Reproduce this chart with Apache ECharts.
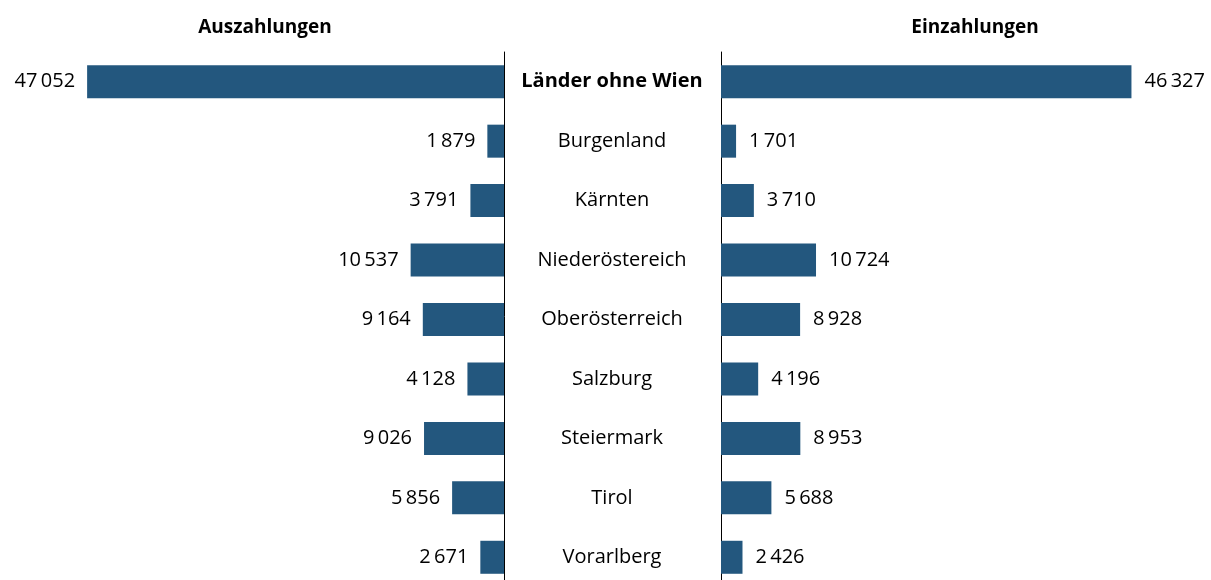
<!DOCTYPE html>
<html><head><meta charset="utf-8">
<script src="https://cdn.jsdelivr.net/npm/echarts@6/dist/echarts.min.js"></script>
<style>html,body{margin:0;padding:0;background:#fff}#c{width:1211px;height:580px}</style>
</head><body><div id="c"></div>
<script>
const categories = ['Länder ohne Wien','Burgenland','Kärnten','Niederöstereich','Oberösterreich','Salzburg','Steiermark','Tirol','Vorarlberg'];
const auszahlungen = [47052,1879,3791,10537,9164,4128,9026,5856,2671];
const einzahlungen = [46327,1701,3710,10724,8928,4196,8953,5688,2426];
const titles = ['Auszahlungen','Einzahlungen'];

const FONT = 'Open Sans';
const FS = 20;
const COLOR = '#23577e';
function fmt(v){ return String(v).replace(/\B(?=(\d{3})+(?!\d))/g,'\u2009'); }

const chart = echarts.init(document.getElementById('c'), null, {renderer:'canvas'});
const MAX = 50000;
chart.setOption({
  animation:false,
  textStyle:{fontFamily:FONT},
  title:[
    {text:titles[0], left:260, top:13, textAlign:'center', textStyle:{fontFamily:FONT,fontSize:19,fontWeight:'bold',color:'#000'}},
    {text:titles[1], left:970, top:13, textAlign:'center', textStyle:{fontFamily:FONT,fontSize:19,fontWeight:'bold',color:'#000'}}
  ],
  grid:[
    {left:61, width:443, top:52, height:535, outerBoundsMode:'none', containLabel:false},
    {left:721, width:443, top:52, height:535, outerBoundsMode:'none', containLabel:false}
  ],
  xAxis:[
    {gridIndex:0, type:'value', min:0, max:MAX, inverse:true, show:false},
    {gridIndex:1, type:'value', min:0, max:MAX, show:false}
  ],
  yAxis:[
    {gridIndex:0, type:'category', data:categories, inverse:true, position:'right',
     axisLine:{show:true, lineStyle:{color:'#000', width:1}}, axisTick:{show:false},
     axisLabel:{show:true, align:'center', margin:108, fontFamily:FONT, fontSize:FS, color:'#000',
       formatter:(v,i)=> i===0 ? '{b|'+v+'}' : v,
       rich:{b:{fontWeight:'bold', fontFamily:FONT, fontSize:FS, color:'#000'}}}},
    {gridIndex:1, type:'category', data:categories, inverse:true, position:'left',
     axisLine:{show:true, lineStyle:{color:'#000', width:1}}, axisTick:{show:false}, axisLabel:{show:false}}
  ],
  series:[
    {type:'bar', xAxisIndex:0, yAxisIndex:0, data:auszahlungen, barWidth:33, itemStyle:{color:COLOR},
     label:{show:true, position:'left', distance:12, fontFamily:FONT, fontSize:FS, color:'#000', formatter:p=>fmt(p.value)}},
    {type:'bar', xAxisIndex:1, yAxisIndex:1, data:einzahlungen, barWidth:33, itemStyle:{color:COLOR},
     label:{show:true, position:'right', distance:13, fontFamily:FONT, fontSize:FS, color:'#000', formatter:p=>fmt(p.value)}}
  ]
});
</script></body></html>
